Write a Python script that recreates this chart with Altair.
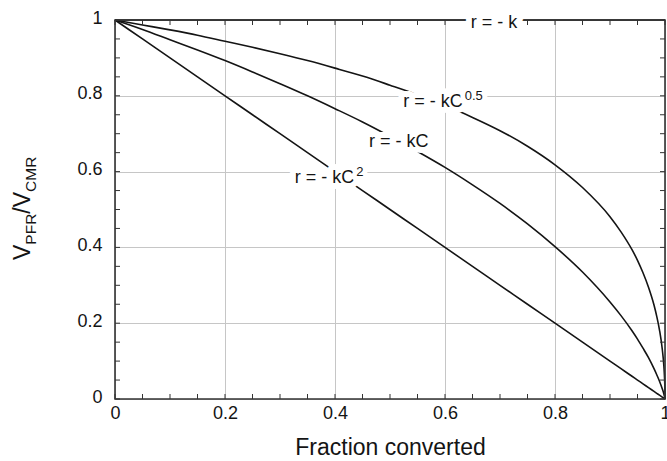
import altair as alt
import pandas as pd

# ---- data ----
X_CONV = [0.0, 0.05, 0.10, 0.15, 0.20, 0.25, 0.30, 0.35, 0.40, 0.45, 0.50, 0.55,
          0.60, 0.65, 0.70, 0.75, 0.80, 0.85, 0.90, 0.92, 0.94, 0.95, 0.96, 0.97,
          0.98, 0.985, 0.99, 0.995, 0.998, 0.999, 0.9999, 1.0]
R_ZERO = [1.0] * len(X_CONV)
R_HALF = [1.0, 0.987, 0.974, 0.960, 0.944, 0.928, 0.911, 0.893, 0.873, 0.852, 0.828, 0.803,
          0.775, 0.743, 0.708, 0.667, 0.618, 0.558, 0.481, 0.441, 0.394, 0.366, 0.333, 0.295,
          0.248, 0.218, 0.182, 0.132, 0.086, 0.061, 0.020, 0.0]
R_FIRST = [1.0, 0.975, 0.948, 0.921, 0.893, 0.863, 0.832, 0.800, 0.766, 0.731, 0.693, 0.653,
           0.611, 0.565, 0.516, 0.462, 0.402, 0.335, 0.256, 0.220, 0.180, 0.158, 0.134, 0.109,
           0.080, 0.064, 0.047, 0.027, 0.013, 0.007, 0.001, 0.0]
R_SECOND = [1.0, 0.95, 0.90, 0.85, 0.80, 0.75, 0.70, 0.65, 0.60, 0.55, 0.50, 0.45,
            0.40, 0.35, 0.30, 0.25, 0.20, 0.15, 0.10, 0.08, 0.06, 0.05, 0.04, 0.03,
            0.02, 0.015, 0.01, 0.005, 0.002, 0.001, 0.0001, 0.0]
SERIES = ["zero", "half", "first", "second"]

TICK_MAJOR = [0.0, 0.2, 0.4, 0.6, 0.8, 1.0]
TICK_MINOR = [0.0, 0.05, 0.1, 0.15, 0.2, 0.25, 0.3, 0.35, 0.4, 0.45, 0.5,
              0.55, 0.6, 0.65, 0.7, 0.75, 0.8, 0.85, 0.9, 0.95, 1.0]

LABEL_MAIN = ["r = - k", "r = - kC", "r = - kC", "r = - kC"]
LABEL_SUP = ["", "0.5", "", "2"]
LABEL_X = [0.647, 0.524, 0.462, 0.327]
LABEL_Y = [0.979, 0.770, 0.665, 0.570]

X_TITLE = "Fraction converted"
Y_TITLE_PARTS = [("V", "main"), ("PFR", "sub"), ("/V", "main"), ("CMR", "sub")]

# ---- layout ----
W, H = 550, 379
FONT = "Liberation Sans"
INK = "#141414"
GRID = "#c6c6c6"

rows = []
for name, vals in zip(SERIES, [R_ZERO, R_HALF, R_FIRST, R_SECOND]):
    for x, r in zip(X_CONV, vals):
        rows.append({"X": x, "ratio": r, "order": name})
df = pd.DataFrame(rows)

xs = alt.Scale(domain=[0, 1], nice=False, zero=False)
ys = alt.Scale(domain=[0, 1], nice=False, zero=False)

x_axis = alt.Axis(
    values=TICK_MAJOR, format="~g", grid=True, ticks=False, domain=False,
    labelFlush=False, labelFontSize=18, labelPadding=5, labelFont=FONT,
    labelColor=INK, gridColor=GRID, gridWidth=1,
    title=X_TITLE, titleFontSize=23, titleFontWeight="normal", titleFont=FONT,
    titleColor=INK, titlePadding=14)
y_axis = alt.Axis(
    values=TICK_MAJOR, format="~g", grid=True, ticks=False, domain=False,
    labelFontSize=18, labelPadding=13, labelFont=FONT, labelColor=INK,
    labelOffset=-2, gridColor=GRID, gridWidth=1, title="")


def xenc(field):
    return alt.X(field, type="quantitative", scale=xs, axis=x_axis, title=X_TITLE)


def yenc(field):
    return alt.Y(field, type="quantitative", scale=ys, axis=y_axis, title="")


lines = alt.Chart(df).mark_line(color=INK, strokeWidth=1.6, interpolate="monotone").encode(
    x=xenc("X"), y=yenc("ratio"), detail="order:N")

dft = pd.DataFrame({"t": TICK_MINOR})
tick_style = dict(color="#333333", strokeWidth=1)
t_bottom = alt.Chart(dft).mark_rule(**tick_style).encode(
    x=xenc("t"), y=alt.value(H), y2=alt.value(H - 5))
t_top = alt.Chart(dft).mark_rule(**tick_style).encode(
    x=xenc("t"), y=alt.value(0), y2=alt.value(5))
t_left = alt.Chart(dft).mark_rule(**tick_style).encode(
    y=yenc("t"), x=alt.value(0), x2=alt.value(5))
t_right = alt.Chart(dft).mark_rule(**tick_style).encode(
    y=yenc("t"), x=alt.value(W), x2=alt.value(W - 5))

one = pd.DataFrame({"a": [0]})
frame = alt.Chart(one).mark_rect(filled=False, stroke="#333333", strokeWidth=1.6).encode(
    x=alt.value(0), x2=alt.value(W), y=alt.value(0), y2=alt.value(H))

lab = pd.DataFrame({"text": LABEL_MAIN, "sup": LABEL_SUP, "lx": LABEL_X, "ly": LABEL_Y})
LFS = 18
halo = alt.Chart(lab).mark_text(
    align="left", baseline="alphabetic", font=FONT, fontSize=LFS,
    fill="white", stroke="white", strokeWidth=12, strokeJoin="round").encode(
    text="text:N", x=xenc("lx"), y=yenc("ly"))
txt = alt.Chart(lab).mark_text(
    align="left", baseline="alphabetic", font=FONT, fontSize=LFS, color=INK).encode(
    text="text:N", x=xenc("lx"), y=yenc("ly"))

# widths in Arial-metric em units
ARIAL = {"r": 0.333, " ": 0.278, "=": 0.584, "-": 0.333, "k": 0.5, "C": 0.722,
         "V": 0.667, "P": 0.667, "F": 0.611, "R": 0.722, "/": 0.278, "M": 0.833}
sup_dx = sum(ARIAL[c] for c in "r = - kC") * LFS + 2
sup_halo = alt.Chart(lab).transform_filter(alt.datum.sup != "").mark_text(
    align="left", baseline="alphabetic", font=FONT, fontSize=13, dx=sup_dx, dy=-7,
    fill="white", stroke="white", strokeWidth=10, strokeJoin="round").encode(
    text="sup:N", x=xenc("lx"), y=yenc("ly"))
sup_txt = alt.Chart(lab).transform_filter(alt.datum.sup != "").mark_text(
    align="left", baseline="alphabetic", font=FONT, fontSize=13, dx=sup_dx, dy=-7,
    color=INK).encode(text="sup:N", x=xenc("lx"), y=yenc("ly"))

# rotated y title made of pieces (main + subscripts)
MAIN_FS, SUB_FS = 23, 15.5
base_x = -85
cur_y = 240.0
ytitle_layers = []
for s, kind in Y_TITLE_PARTS:
    fs = MAIN_FS if kind == "main" else SUB_FS
    xx = base_x if kind == "main" else base_x + 6
    ytitle_layers.append(
        alt.Chart(one).mark_text(
            text=s, angle=270, align="left", baseline="alphabetic",
            font=FONT, fontSize=fs, color=INK).encode(
            x=alt.value(xx), y=alt.value(cur_y)))
    cur_y -= sum(ARIAL[c] for c in s) * fs

chart = alt.layer(
    lines, t_bottom, t_top, t_left, t_right, frame, halo, txt, sup_halo, sup_txt,
    *ytitle_layers
).properties(
    width=W, height=H,
    autosize=alt.AutoSizeParams(type="none"),
    padding={"left": 115, "top": 20, "right": 2, "bottom": 62},
).configure_view(strokeWidth=0).configure(font=FONT)

chart.save("out.html", embed_options={"renderer": "svg", "actions": False})
